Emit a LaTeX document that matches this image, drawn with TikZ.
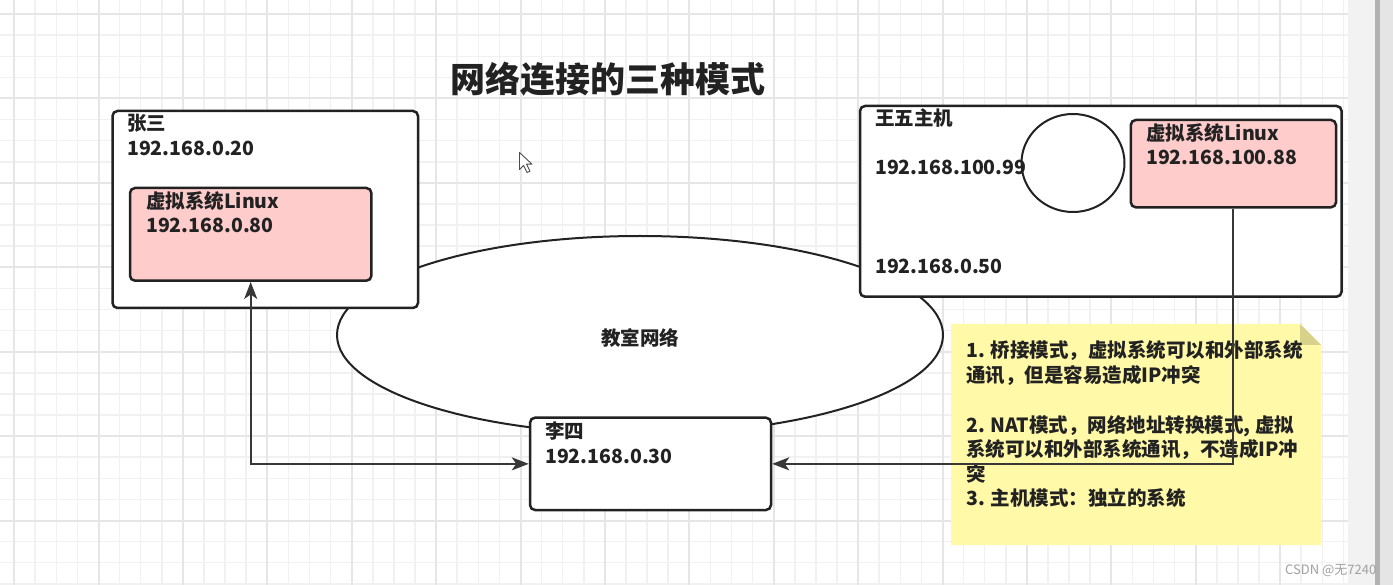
\documentclass[tikz,border=0pt]{standalone}
\usepackage{graphicx}
\usepackage{fontspec}
\setmainfont{Noto Sans CJK SC}
\usetikzlibrary{arrows.meta,shapes.geometric}
\definecolor{ink}{HTML}{222222}
\definecolor{gridminor}{HTML}{F1F1F1}
\definecolor{gridmajor}{HTML}{E6E6E6}
\definecolor{pinkfill}{HTML}{FFCCCC}
\definecolor{notefill}{HTML}{FFF9A8}
\definecolor{notefold}{HTML}{D7D289}
\definecolor{wmark}{HTML}{A0A0A0}
\tikzset{
  boxnode/.style={draw=ink, line width=2.5pt, rounded corners=5pt, fill=white, inner sep=0pt},
  pinknode/.style={boxnode, fill=pinkfill},
  ringnode/.style={ellipse, draw=ink, line width=2pt, fill=white, inner sep=0pt},
  txt/.style={anchor=base west, inner sep=0pt, text=ink, font=\fontsize{19.5}{24}\selectfont\bfseries},
  conn/.style={draw=ink!90, line width=2pt},
  stk/.tip={Stealth[length=17pt,width=13pt,inset=4.5pt]},
}
\begin{document}
\begin{tikzpicture}[x=1pt,y=-1pt]
\useasboundingbox (0,0) rectangle (1393,585);
% background
\fill[white] (0,0) rectangle (1393,585);
\begin{scope}
\clip (0,0) rectangle (1348,585);
\foreach \k in {0,...,63} {
  \pgfmathsetmacro\p{14.1+21.1*\k}
  \draw[gridminor, line width=1.5pt] (\p,0) -- (\p,585);
}
\foreach \k in {0,...,27} {
  \pgfmathsetmacro\p{14.1+21.1*\k}
  \draw[gridminor, line width=1.5pt] (0,\p) -- (1348,\p);
}
\foreach \j in {0,...,15} {
  \pgfmathsetmacro\p{14.1+84.4*\j}
  \draw[gridmajor, line width=2pt] (\p,0) -- (\p,585);
}
\foreach \j in {0,...,6} {
  \pgfmathsetmacro\p{14.1+84.4*\j}
  \draw[gridmajor, line width=2pt] (0,\p) -- (1348,\p);
}
\end{scope}
% scrollbar strip
\fill[black!5] (1348,0) rectangle (1375,585);
\fill[black!30] (1375,0) rectangle (1380,585);
\fill[black!10] (1380,0) rectangle (1393,585);

% title
\node[anchor=base, inner sep=0pt, text=ink, font=\fontsize{35}{40}\selectfont\bfseries] (title) at (607.5,93) {网络连接的三种模式};

% classroom network
\node[ringnode, minimum width=606pt, minimum height=198pt] (net) at (640,335) {};
\node[anchor=base, inner sep=0pt, text=ink, font=\fontsize{19.5}{24}\selectfont\bfseries] (netlbl) at (640,346) {教室网络};

% Zhang San
\node[boxnode, minimum width=305.5pt, minimum height=197pt] (zs) at (265.25,209.5) {};
\node[pinknode, minimum width=241.4pt, minimum height=92.7pt] (pinkL) at (250.7,234.35) {};
\node[txt] (zs1) at (127,131) {张三};
\node[txt] (zs2) at (127,156) {192.168.0.20};
\node[txt] (pl1) at (146,209) {虚拟系统Linux};
\node[txt] (pl2) at (146,233) {192.168.0.80};

% Li Si
\node[boxnode, minimum width=241pt, minimum height=92.3pt] (lisi) at (650.5,463.85) {};
\node[txt] (ls1) at (545,438) {李四};
\node[txt] (ls2) at (545,463) {192.168.0.30};

% Wang Wu host
\node[boxnode, minimum width=481.6pt, minimum height=190.7pt] (ww) at (1100.8,201.35) {};
\node[ringnode, minimum width=103pt, minimum height=98pt] (ring) at (1073,163) {};
\node[pinknode, minimum width=205.2pt, minimum height=87.3pt] (pinkR) at (1233.4,163.65) {};
\node[txt] (ww1) at (875,126) {王五主机};
\node[txt] (ww2) at (875,175) {192.168.100.99};
\node[txt] (ww3) at (875,274) {192.168.0.50};
\node[txt] (pr1) at (1146,141) {虚拟系统Linux};
\node[txt] (pr2) at (1146,165) {192.168.100.88};

% note
\fill[notefill] (951,324) -- (1300,324) -- (1321,345) -- (1321,545) -- (951,545) -- cycle;
\fill[notefold] (1300,324) -- (1300,345) -- (1321,345) -- cycle;
\node[txt] (n1) at (966,358) {1. 桥接模式，虚拟系统可以和外部系统};
\node[txt] (n2) at (966,382.5) {通讯，但是容易造成IP冲突};
\node[txt] (n3) at (966,432) {2. NAT模式，网络地址转换模式, 虚拟};
\node[txt] (n4) at (966,456.5) {系统可以和外部系统通讯，不造成IP冲};
\node[txt] (n5) at (966,481) {突};
\node[txt] (n6) at (966,505.5) {3. 主机模式：独立的系统};

% connectors
\draw[conn, stk-stk] (pinkL.south) |- (lisi.west);
\draw[conn, -stk] (pinkR.south) |- (lisi.east);

% watermark
\node[anchor=base west, inner sep=0pt, text=wmark, font=\fontsize{13}{15}\selectfont] (wm) at (1285,574) {CSDN @无7240};

% mouse cursor
\filldraw[fill=white, draw=black!70, line width=0.9pt, line join=round]
  (519.5,152.5) -- ++(0,17) -- ++(4,-4) -- ++(3.5,7) -- ++(3,-1.3) -- ++(-3.5,-7) -- ++(5.5,0) -- cycle;
\end{tikzpicture}
\end{document}
